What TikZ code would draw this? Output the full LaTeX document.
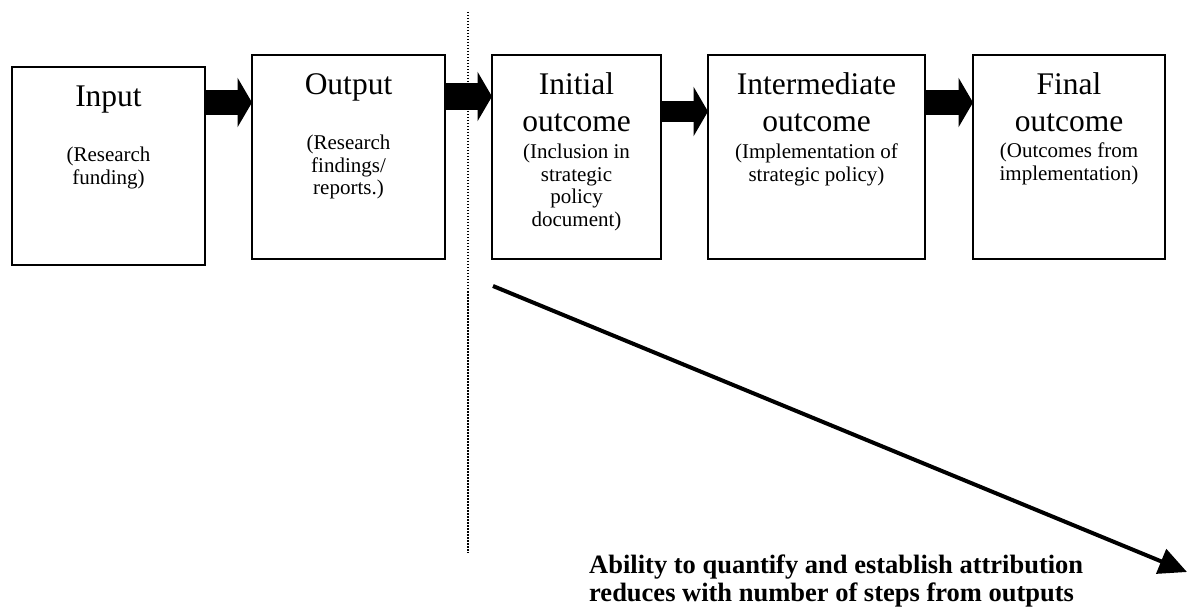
\documentclass[tikz,border=0pt]{standalone}
\usepackage{fontspec}
\setmainfont{Liberation Serif}
\usetikzlibrary{arrows.meta}
\newcommand{\ttlfont}{\fontsize{31.5}{36.5}\selectfont}
\newcommand{\subfont}{\fontsize{21}{22.5}\selectfont}
\newcommand{\lines}[1]{\begin{tabular}[t]{@{}c@{}}#1\end{tabular}}
\tikzset{
  box/.style={draw=black, line width=2pt, outer sep=0pt, minimum width=#1},
  ttl/.style={anchor=base, inner sep=0pt, font=\ttlfont},
  sub/.style={anchor=base, inner sep=0pt, font=\subfont},
  blk/.style={line width=#1, -{Triangle[length=14.5pt,width=49pt]}},
  dotline/.style={line width=1.3pt, dash pattern=on 1.5pt off 1.5pt},
  diag/.style={line width=4pt, -{Triangle[length=28pt,width=26pt]}}
}
\begin{document}
\begin{tikzpicture}[x=1pt,y=-1pt]
\useasboundingbox (0,0) rectangle (1188,609);
% boxes
\node[box=193pt, minimum height=198pt] (inB) at (108.5,166) {};
\node[box=193pt, minimum height=204pt] (outB) at (348.5,157) {};
\node[box=169pt, minimum height=204pt] (iniB) at (576.5,157) {};
\node[box=217pt, minimum height=204pt] (intB) at (816.5,157) {};
\node[box=192pt, minimum height=204pt] (finB) at (1069,157) {};
% texts
\node[ttl] (inT) at (108.5,107) {Input};
\node[sub] (inS) at (108.5,162) {\lines{(Research\\funding)}};
\node[ttl] (outT) at (348.5,95) {Output};
\node[sub] (outS) at (348.5,150) {\lines{(Research\\findings/\\reports.)}};
\node[ttl] (iniT) at (576.5,95) {\lines{Initial\\outcome}};
\node[sub] (iniS) at (576.5,159) {\lines{(Inclusion in\\strategic\\policy\\document)}};
\node[ttl] (intT) at (816.5,95) {\lines{Intermediate\\outcome}};
\node[sub] (intS) at (816.5,159) {\lines{(Implementation of\\strategic policy)}};
\node[ttl] (finT) at (1069,95) {\lines{Final\\outcome}};
\node[sub] (finS) at (1069,158) {\lines{(Outcomes from\\implementation)}};
% block arrows
\draw[blk=25pt] (inB.east |- 0,102.5) -- (outB.west |- 0,102.5);
\draw[blk=27pt] (outB.east |- 0,96.5) -- (iniB.west |- 0,96.5);
\draw[blk=21pt] (iniB.east |- 0,111.5) -- (intB.west |- 0,111.5);
\draw[blk=25pt] (intB.east |- 0,102.5) -- (finB.west |- 0,102.5);
% dotted divider
\coordinate (dtop) at (468,12);
\coordinate (dbot) at (468,553);
\draw[dotline] (dtop) -- (dbot);
% diagonal arrow
\coordinate (ds) at (493,286);
\coordinate (de) at (1187,572);
\draw[diag] (ds) -- (de);
% bottom label
\node[anchor=base west, inner sep=0pt, font=\fontsize{26.5}{28.5}\selectfont\bfseries] (lbl) at (589,573)
  {\vtop{\hbox{Ability to quantify and establish attribution}\hbox{reduces with number of steps from outputs}}};
\end{tikzpicture}
\end{document}
